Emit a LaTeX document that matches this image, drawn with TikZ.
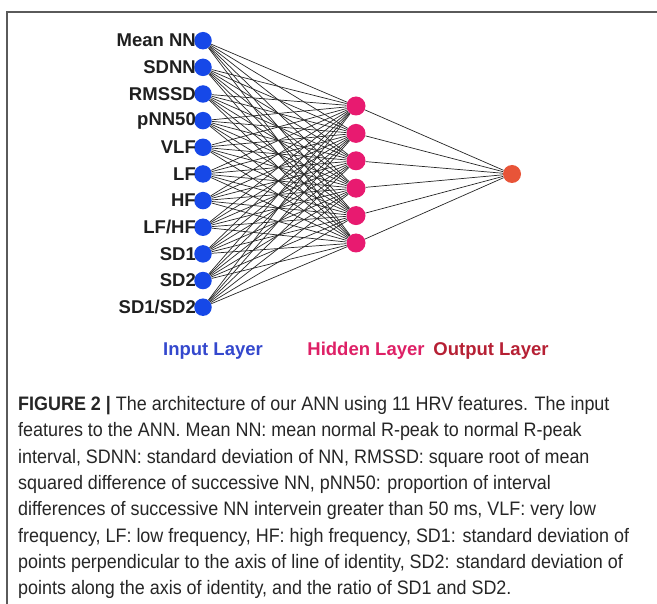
\documentclass[tikz,border=0pt]{standalone}
\usepackage{fontspec}
\setmainfont{Liberation Sans}
\newfontfamily\capfont[FakeStretch=0.92]{Liberation Sans}
\definecolor{inblue}{RGB}{22,72,232}
\definecolor{hidpink}{RGB}{232,26,112}
\definecolor{outred}{RGB}{232,84,56}
\definecolor{inlab}{RGB}{52,72,205}
\definecolor{hidlab}{RGB}{222,32,102}
\definecolor{outlab}{RGB}{182,32,52}
\definecolor{framegray}{RGB}{90,90,90}
\tikzset{
  neuron/.style={circle, inner sep=0pt, minimum size=17.5pt, draw=none},
  feat/.style={anchor=east, font=\fontsize{18.5}{20}\selectfont\bfseries, text=black!88, inner sep=0pt},
  layerlab/.style={font=\fontsize{18.5}{20}\selectfont\bfseries, inner sep=0pt},
  wire/.style={draw=black!85, line width=0.7pt},
  capline/.style={anchor=base west, inner sep=0pt, font=\capfont\fontsize{19.5}{22}\selectfont, text=black!85},
}
\begin{document}
\begin{tikzpicture}[x=1pt,y=-1pt]
\useasboundingbox (0,0) rectangle (657,604);
% open frame: top and left rules
\draw[framegray, line width=1.4pt] (657,12) -- (7,12) -- (7,604);

% input layer
\foreach \lab [count=\i from 0] in {Mean NN,SDNN,RMSSD,pNN50,VLF,LF,HF,{LF/HF},SD1,SD2,{SD1/SD2}}{
  \node[neuron, fill=inblue] (in\i) at (203,{40.7+26.65*\i}) {};
  \node[feat] (lab\i) at (196,{40.7+26.65*\i}) {\lab};
}
% hidden layer
\foreach \j in {0,...,5}{
  \node[neuron, fill=hidpink, minimum size=19pt] (h\j) at (356,{106+27.4*\j}) {};
}
% output layer
\node[neuron, fill=outred, minimum size=18pt] (out) at (512,174) {};

% connections
\foreach \i in {0,...,10}{
  \foreach \j in {0,...,5}{
    \draw[wire] (in\i) -- (h\j);
  }
}
\foreach \j in {0,...,5}{
  \draw[wire] (h\j) -- (out);
}

% layer titles
\node[layerlab, text=inlab] (tin) at (213,351) {Input Layer};
\node[layerlab, text=hidlab] (thid) at (366,351) {Hidden Layer};
\node[layerlab, text=outlab] (tout) at (491,351) {Output Layer};

% caption, one node per line
\foreach \txt [count=\k from 0] in {
  {{\bfseries FIGURE 2 |} The architecture of our ANN using 11 HRV features. The input},
  {features to the ANN. Mean NN: mean normal R-peak to normal R-peak},
  {interval, SDNN: standard deviation of NN, RMSSD: square root of mean},
  {squared difference of successive NN, pNN50: proportion of interval},
  {differences of successive NN intervein greater than 50 ms, VLF: very low},
  {frequency, LF: low frequency, HF: high frequency, SD1: standard deviation of},
  {points perpendicular to the axis of line of identity, SD2: standard deviation of},
  {points along the axis of identity, and the ratio of SD1 and SD2.}}{
  \node[capline] (cap\k) at (18,{410.5+26.3*\k}) {\txt};
}
\end{tikzpicture}
\end{document}
